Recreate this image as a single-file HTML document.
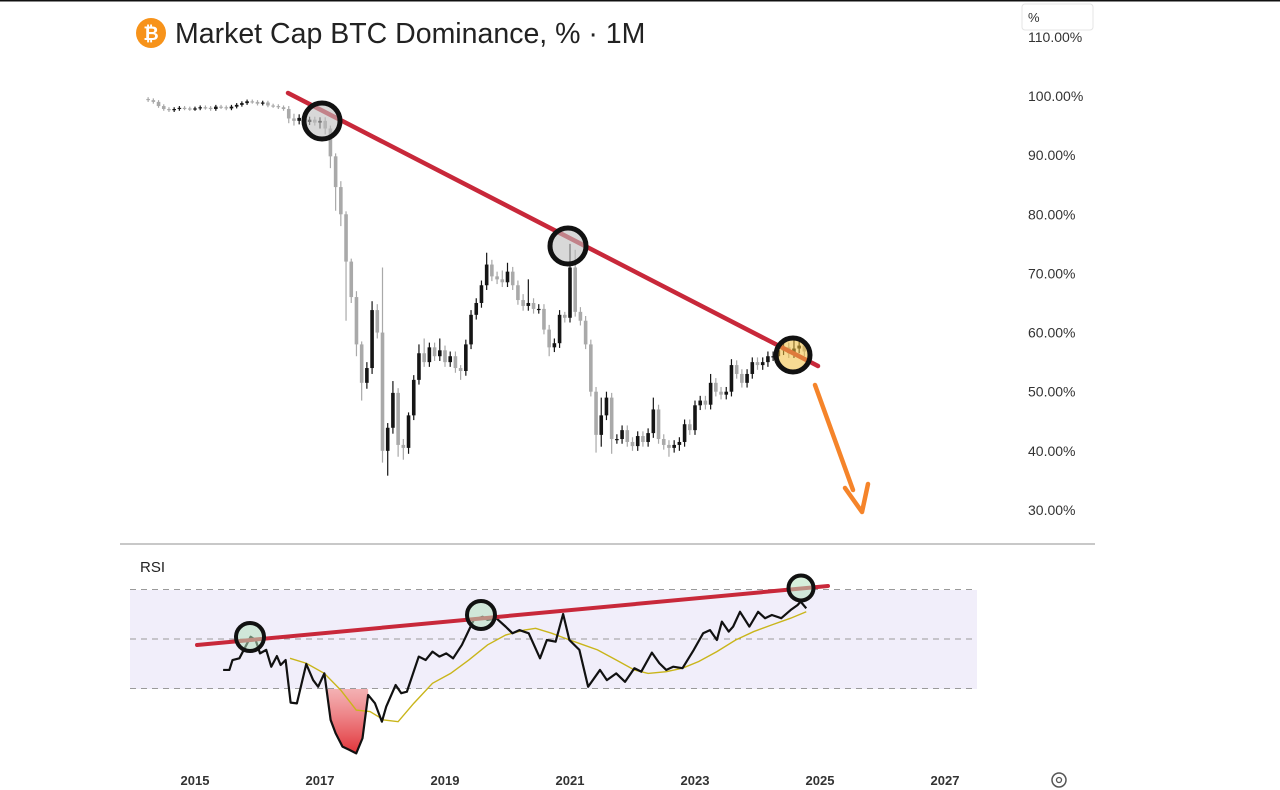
<!DOCTYPE html>
<html><head><meta charset="utf-8"><style>
html,body{margin:0;padding:0;background:#fff;}
svg{display:block;font-family:"Liberation Sans",sans-serif;}
</style></head><body>
<svg id="chart" width="1280" height="790" viewBox="0 0 1280 790" xmlns="http://www.w3.org/2000/svg">
<defs>
<linearGradient id="redfill" x1="0" y1="0" x2="0" y2="1">
<stop offset="0" stop-color="#ffffff" stop-opacity="0.2"/>
<stop offset="1" stop-color="#e0282e" stop-opacity="0.95"/>
</linearGradient>
<clipPath id="below30"><rect id="clipRect" x="0" y="689" width="1280" height="101"/></clipPath>
</defs>
<rect x="0" y="0" width="1280" height="1.5" fill="#111"/>
<g>
<circle cx="151" cy="33" r="15" fill="#f7931a"/>
<text x="151" y="40" font-size="19" font-weight="bold" fill="#fff" text-anchor="middle">₿</text>
<text x="175" y="43" font-size="28.5" fill="#222">Market Cap BTC Dominance, % · 1M</text>
</g>
<g id="yaxis"></g>
<rect x="1022" y="4" width="71" height="26" rx="3" fill="#fff" stroke="#e4e4e4"/>
<text x="1028" y="22" font-size="13" fill="#333">%</text>
<g id="candles"></g>
<line x1="120" y1="544" x2="1095" y2="544" stroke="#b5b5b5" stroke-width="1.5"/>
<text x="140" y="572" font-size="15" fill="#222">RSI</text>
<rect x="130" y="590" width="847" height="99" fill="#f1eefa"/>
<g id="rsi"></g>
<g id="xaxis"></g>
<g>
<circle cx="1059" cy="780" r="7" fill="none" stroke="#555" stroke-width="1.5"/>
<circle cx="1059" cy="780" r="2.5" fill="none" stroke="#555" stroke-width="1.3"/>
</g>
</svg>
<script>
// ---- price data (monthly, starting Apr 2014) ----
const closes = [
99.3,99,98.3,97.8,97.6,97.8,98,97.9,97.8,97.9,
98.1,98,97.8,98.2,98.1,97.9,98.2,98.5,98.8,99.1,
99,98.7,98.9,98.4,98.3,98.1,97.8,96.2,95.8,96.3,
95.6,96,95.5,95.8,94.5,89.8,84.6,80,72,66,
58,51.5,54,63.8,60,40,43.9,49.8,41,40.5,
46,52,56.5,55,57.5,56,57,55,56,54,
53.5,58,63,65,68,71.5,69.5,69,68.5,70.3,
68,65.5,64.5,65,64,64,60.5,57.5,58.2,63,
62.5,71,63.5,62,58,50,42.7,46,49,42,
42,43.5,41.5,40.8,42.5,41.5,43,47,42,41,
40.5,41,41.5,44.5,43.5,47.7,48.5,47.8,51.5,50,
49.5,50,54.5,53,51.5,53,55,54.5,55,56,
56,57,57.5,56.5,57.3,57.8,56.8];
const firstOpen = 99.5;
const wickUp = [
.3,.3,.3,.3,.3,.3,.3,.3,.3,.3,
.3,.3,.3,.3,.3,.3,.3,.3,.3,.3,
.3,.3,.3,.3,.3,.3,.3,.5,.8,.6,
.5,.5,.5,.6,.6,.5,.5,1,.5,.5,
1,.5,1,1.5,1,11,.8,2,.8,1,
.5,.8,1.5,2.5,.8,.8,2,.8,.8,.8,
.5,.8,.8,.8,.8,2,.8,.8,1.5,1.5,
.8,.8,1,4,.8,.8,.8,.8,.8,.8,
.5,4,3,.8,.8,.8,.8,3,1,.8,
.8,.8,.8,.8,.8,.8,.8,2,.8,.8,
.8,.8,.8,.8,.8,.8,.8,.8,1.5,.8,
.8,.8,1,.8,.8,.8,.8,.8,.8,.8,
.8,.8,.8,.8,1.5,.8,.8];
const wickDn = [
.3,.3,.3,.3,.3,.3,.3,.3,.3,.3,
.3,.3,.3,.3,.3,.3,.3,.3,.3,.3,
.3,.3,.3,.3,.3,.3,.3,.8,.8,.6,
.5,.5,.5,1,1,2,4,2,10,1,
2,3,1,1,1,2,4.2,1,2,2,
1,.8,.8,.8,.8,.8,.8,.8,.8,.8,
1.5,.8,.8,.8,.8,.8,.8,.8,.8,.8,
.8,.8,.8,.8,.8,.8,.8,1.5,.8,.8,
.8,.8,.8,.8,.8,.8,3,2,.8,2.5,
.8,.8,.8,.8,.8,.8,.8,.8,.8,.8,
1.5,.8,1,.8,.8,.8,.8,.8,.8,.8,
.8,.8,.8,.8,.8,.8,.8,.8,.8,.8,
.8,.8,.8,.8,.8,.8,.8];
const priceTicks = [110,100,90,80,70,60,50,40,30];
const yearTicks = [2015,2017,2019,2021,2023,2025,2027];
// ---- RSI data ----
const rsiT = [2015.45,2015.55,2015.60,2015.71,2015.89,2015.97,2016.04,2016.14,2016.22,2016.31,2016.37,2016.45,2016.53,2016.63,2016.78,2016.89,2016.97,2017.07,2017.17,2017.25,2017.36,2017.47,2017.58,2017.68,2017.77,2017.88,2017.99,2018.06,2018.21,2018.30,2018.39,2018.58,2018.69,2018.80,2018.91,2019.02,2019.13,2019.27,2019.46,2019.60,2019.68,2019.82,2019.97,2020.08,2020.19,2020.34,2020.52,2020.63,2020.77,2020.89,2020.99,2021.15,2021.29,2021.48,2021.59,2021.74,2021.88,2022.03,2022.14,2022.31,2022.43,2022.54,2022.65,2022.80,2022.98,2023.13,2023.24,2023.35,2023.43,2023.54,2023.61,2023.72,2023.87,2024.01,2024.12,2024.23,2024.38,2024.53,2024.64,2024.69,2024.78];
const rsiV = [37.5,37.5,41.5,42.2,50.9,49.6,44.2,45.6,38.8,43.1,39.5,41.5,24.3,24.0,39.9,33.4,30.7,36.1,17.3,11.9,6.5,5.2,3.8,9.9,27.4,24.0,16.6,22.7,31.4,28.1,28.7,42.9,41.5,44.9,42.9,44.2,42.2,47.6,57.7,59.0,57.7,58.4,55.0,52.3,53.6,52.3,42.2,49.6,48.9,60.1,49.6,45.6,30.7,37.5,33.4,36.1,32.7,38.2,36.8,44.5,40.2,37.5,38.8,38.2,45.6,52.3,53.6,49.6,57.0,53.0,55.0,61.0,55.0,61.0,58.4,59.7,58.4,61.7,63.7,65.1,62.4];
const maT = [2016.52,2016.78,2017.07,2017.33,2017.58,2017.80,2018.02,2018.25,2018.50,2018.80,2019.09,2019.38,2019.68,2019.97,2020.27,2020.45,2020.71,2020.93,2021.15,2021.44,2021.74,2022.03,2022.25,2022.54,2022.80,2023.06,2023.35,2023.65,2023.94,2024.23,2024.53,2024.78];
const maV = [42.2,40.2,36.1,29.4,21.3,20.7,17.3,16.6,24.0,32.1,36.1,41.5,47.6,51.6,53.6,54.3,52.3,50.2,48.2,45.6,41.5,37.5,36.1,36.8,38.2,40.9,44.9,49.6,53.0,55.7,58.4,61.0];
const rsiLevels = [70,50,30];
const fillRange = [2017.1, 2017.77];

const NS = "http://www.w3.org/2000/svg";
const xT = t => 195 + (t - 2015) * 62.5;
const yP = v => 96 + (100 - v) * 5.914;
const yR = r => 639 - (r - 50) * 2.475;
function mk(tag, attrs, parent){ const e=document.createElementNS(NS,tag); for(const k in attrs) e.setAttribute(k,attrs[k]); parent.appendChild(e); return e; }

const cr = document.getElementById('clipRect');
cr.setAttribute('x', xT(fillRange[0]));
cr.setAttribute('width', xT(fillRange[1]) - xT(fillRange[0]));

// y axis
const ya = document.getElementById('yaxis');
priceTicks.forEach(v=>{
  const t = mk('text',{x:1028,y:yP(v)+5,'font-size':14,fill:'#333'},ya);
  
  
  t.textContent = v.toFixed(2)+'%';
});
// x axis
const xa = document.getElementById('xaxis');
yearTicks.forEach(y=>{
  const t = mk('text',{x:xT(y),y:785,'font-size':13,'font-weight':'bold',fill:'#333','text-anchor':'middle'},xa);
  
  
  t.textContent = y;
});
// candles
const cg = document.getElementById('candles');
let prev = firstOpen;
closes.forEach((c,i)=>{
  const o = prev; prev = c;
  const t = 2014.25 + i/12;
  const x = xT(t);
  const up = c >= o;
  const col = up ? '#151515' : '#a9a9a9';
  const hi = Math.max(o,c) + wickUp[i], lo = Math.min(o,c) - wickDn[i];
  const w = mk('line',{x1:x,x2:x,y1:yP(hi),y2:yP(lo),stroke:col,'stroke-width':1.2},cg);
  
  
  const top = yP(Math.max(o,c)), bot = yP(Math.min(o,c));
  const b = mk('rect',{x:x-1.8,y:top,width:3.6,height:Math.max(1.2,bot-top),fill:col},cg);
  
  
});
// price trend line + circles
const tl = mk('line',{x1:288,y1:93,x2:818,y2:366,stroke:'#c8283a','stroke-width':4.5,'stroke-linecap':'round'},cg);


[[322,121,18,'rgba(190,190,190,0.6)'],[568,246,18,'rgba(190,190,190,0.6)'],[793,355,17,'rgba(240,190,60,0.55)']].forEach(p=>{
  const c = mk('circle',{cx:p[0],cy:p[1],r:p[2],fill:p[3],stroke:'#111','stroke-width':5},cg);
  
  
});
const ar = mk('line',{x1:815,y1:385,x2:853,y2:490,stroke:'#f5842a','stroke-width':4.5,'stroke-linecap':'round'},cg);


const ah = mk('polyline',{points:'845,488 862,512 868,484',fill:'none',stroke:'#f5842a','stroke-width':4.5,'stroke-linecap':'round','stroke-linejoin':'round'},cg);



// RSI
const rg = document.getElementById('rsi');
rsiLevels.forEach(l=>{
  const d = mk('line',{x1:130,x2:977,y1:yR(l),y2:yR(l),stroke:'#9a9a9a','stroke-width':1,'stroke-dasharray':'6 5'},rg);
  
  
});
const pts = rsiT.map((t,i)=>[xT(t),yR(rsiV[i])]);
const fillPts = pts.map(p=>p.join(',')).join(' ') + ` ${pts[pts.length-1][0]},${yR(30)} ${pts[0][0]},${yR(30)}`;
const fp = mk('polygon',{points:fillPts,fill:'url(#redfill)','clip-path':'url(#below30)'},rg);


const ma = mk('polyline',{points:maT.map((t,i)=>xT(t)+','+yR(maV[i])).join(' '),fill:'none',stroke:'#c9b51a','stroke-width':1.4},rg);


const rl = mk('polyline',{points:pts.map(p=>p.join(',')).join(' '),fill:'none',stroke:'#111','stroke-width':2.2,'stroke-linejoin':'round'},rg);


const rt = mk('line',{x1:197,y1:645,x2:828,y2:586,stroke:'#c8283a','stroke-width':4,'stroke-linecap':'round'},rg);


[[250,637,14],[481,615,14],[801,588,12.5]].forEach(p=>{
  const c = mk('circle',{cx:p[0],cy:p[1],r:p[2],fill:'rgba(180,225,190,0.55)',stroke:'#111','stroke-width':4},rg);
  
  
});
</script>
</body></html>
